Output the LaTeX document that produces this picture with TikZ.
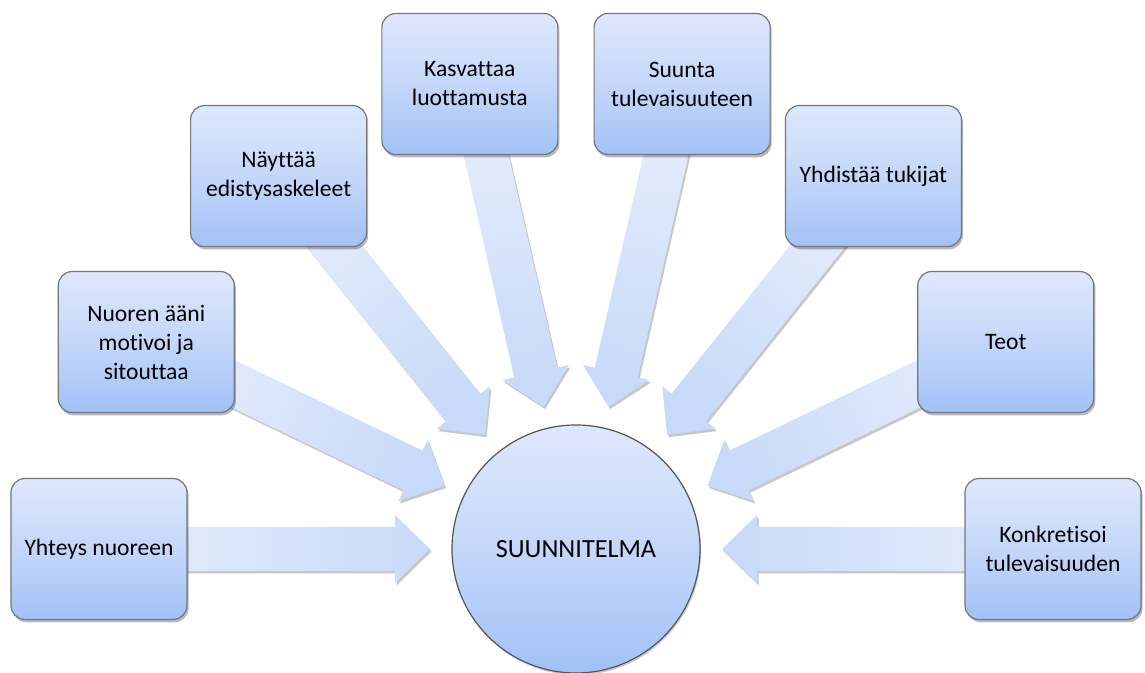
\documentclass[tikz,border=0pt]{standalone}
\usepackage{fontspec}
\setmainfont{Carlito}[Ligatures={NoCommon}]
\usetikzlibrary{calc,shadows}
\definecolor{boxtop}{RGB}{222,232,252}
\definecolor{boxmid}{RGB}{196,215,250}
\definecolor{boxbot}{RGB}{162,193,247}
\definecolor{boxline}{RGB}{118,118,118}
\definecolor{hubline}{RGB}{85,85,85}
\definecolor{arrlight}{RGB}{230,238,252}
\definecolor{arrdark}{RGB}{200,218,249}
\pgfdeclarelayer{background}
\pgfsetlayers{background,main}
\begin{document}
\begin{tikzpicture}[x=0.5pt,y=0.5pt,
  lbl/.style={font=\fontsize{11.8}{14.5}\selectfont, align=center},
  box/.style={lbl, draw=boxline, line width=0.6pt, rounded corners=7pt,
    minimum width=88pt, minimum height=70.5pt, inner sep=2pt,
    top color=boxtop, bottom color=boxbot, middle color=boxmid,
    drop shadow={shadow xshift=0.8pt, shadow yshift=-1.4pt, opacity=0.28, fill=black}},
  hub/.style={font=\fontsize{13.1}{15.5}\selectfont, circle, draw=hubline, line width=0.6pt, minimum size=124pt, inner sep=0pt,
    top color=boxtop, bottom color=boxbot, middle color=boxmid,
    drop shadow={shadow xshift=0.6pt, shadow yshift=-1pt, opacity=0.2, fill=black}},
  arrowbody/.style={top color=arrlight, bottom color=arrdark,
    drop shadow={shadow xshift=0.8pt, shadow yshift=-1.2pt, opacity=0.22, fill=black}}
]
\useasboundingbox (0,0) rectangle (1145,673);
\node[hub] (c) at (576,124) {SUUNNITELMA};
\node[box] (b1) at ($(c)+(180:477)$) {Yhteys nuoreen};
\node[box] (b2) at ($(c)+(154.2857:477)$) {Nuoren ääni\\motivoi ja\\sitouttaa};
\node[box] (b3) at ($(c)+(128.5714:477)$) {Näyttää\\edistysaskeleet};
\node[box] (b4) at ($(c)+(102.8571:477)$) {Kasvattaa\\luottamusta};
\node[box] (b5) at ($(c)+(77.1429:477)$) {Suunta\\tulevaisuuteen};
\node[box] (b6) at ($(c)+(51.4286:477)$) {Yhdistää tukijat};
\node[box] (b7) at ($(c)+(25.7143:477)$) {Teot};
\node[box] (b8) at ($(c)+(0:477)$) {Konkretisoi\\tulevaisuuden};
\begin{pgfonlayer}{background}
\foreach \i/\a in {1/180,2/154.2857,3/128.5714,4/102.8571,5/77.1429,6/51.4286,7/25.7143,8/0}{
  \pgfmathsetmacro\sa{\a-90}
  \path[arrowbody, shading angle=\sa]
    ($(c)+(\a:146)$)
    -- ($(c)+(\a:181)+(\a+90:34)$)
    -- ($(c)+(\a:181)+(\a+90:22)$)
    -- ($(b\i.center)+(\a+90:22)$)
    -- ($(b\i.center)+(\a-90:22)$)
    -- ($(c)+(\a:181)+(\a-90:22)$)
    -- ($(c)+(\a:181)+(\a-90:34)$)
    -- cycle;
}
\end{pgfonlayer}
\end{tikzpicture}
\end{document}
